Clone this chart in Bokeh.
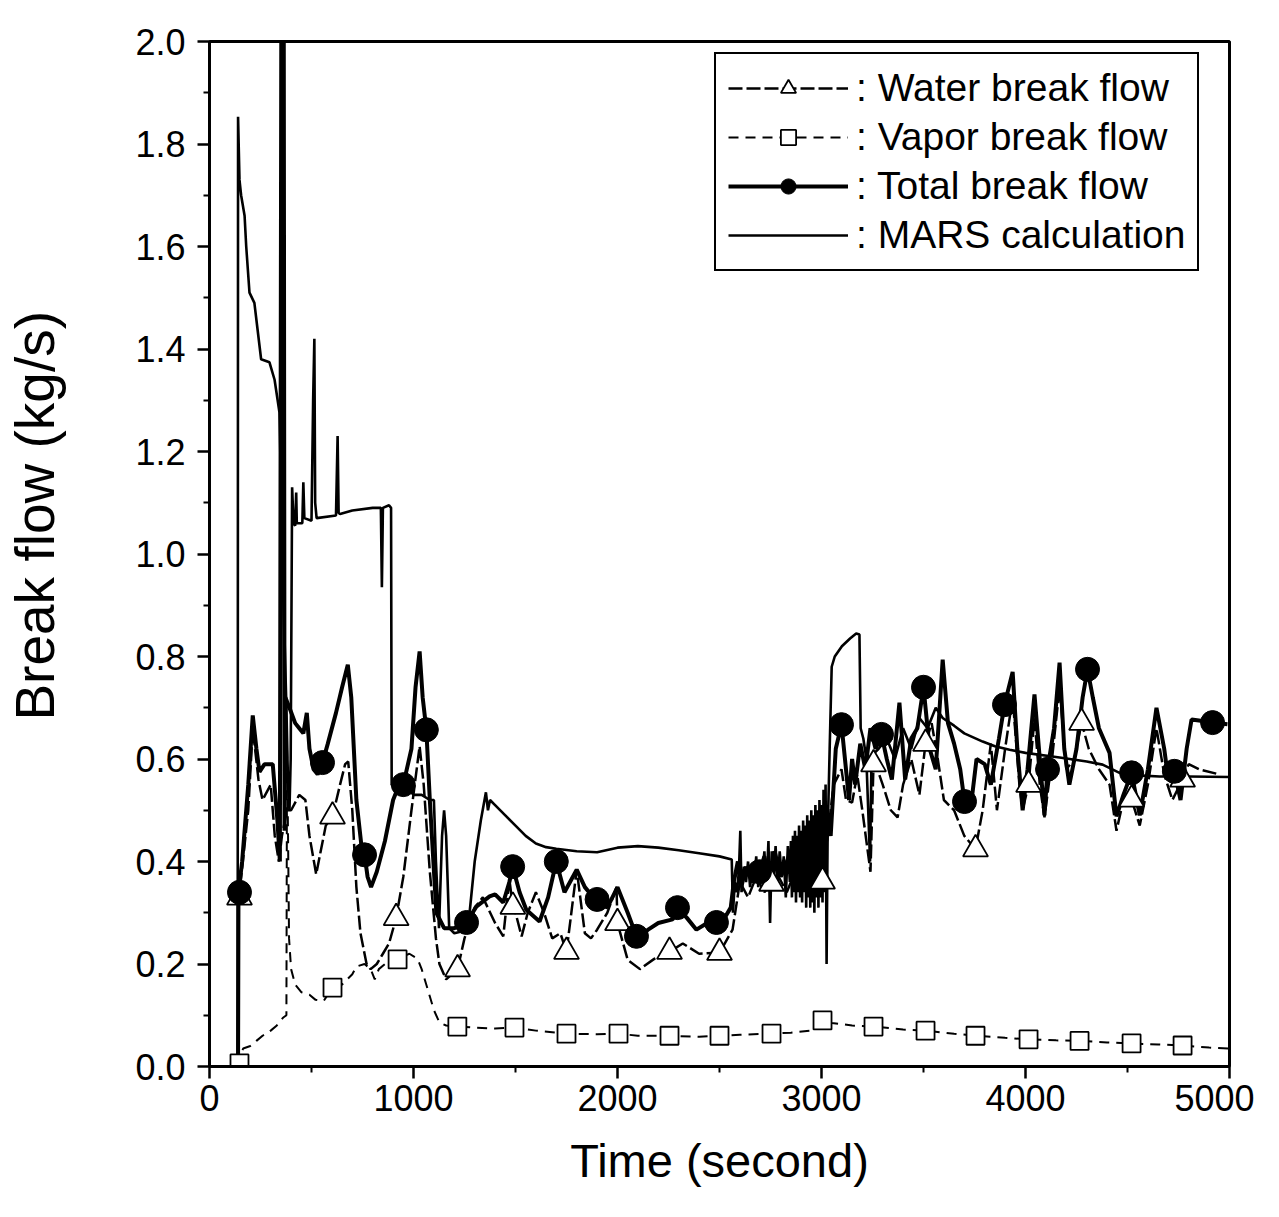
from bokeh.plotting import figure
from bokeh.models import Range1d, FixedTicker, PrintfTickFormatter, Legend, LegendItem
from bokeh.embed import file_html
from bokeh.resources import INLINE

# ---------------- data ----------------
x_ticks = [0, 1000, 2000, 3000, 4000, 5000]
x_minor = [500, 1500, 2500, 3500, 4500]
y_ticks = [0.0, 0.2, 0.4, 0.6, 0.8, 1.0, 1.2, 1.4, 1.6, 1.8, 2.0]
y_minor = [0.1, 0.3, 0.5, 0.7, 0.9, 1.1, 1.3, 1.5, 1.7, 1.9]

# MARS calculation
mars_t = [0, 138, 140, 147, 155, 172, 180, 196, 220, 235, 253, 294, 319, 343, 360, 377, 385, 392, 398,
          405, 412, 420, 425, 428, 455, 460, 465, 500, 508, 514, 518, 525, 620, 628, 633, 640, 700, 800,
          840, 845, 850, 880, 890, 893, 920, 960, 1000, 1040, 1080, 1100, 1110, 1125, 1140, 1150, 1160,
          1175, 1200, 1250, 1275, 1300, 1330, 1355, 1365, 1375, 1400, 1450, 1500, 1550, 1600, 1650, 1700,
          1800, 1900, 2000, 2100, 2200, 2300, 2400, 2500, 2560, 2566,
          2575, 2585, 2595, 2602, 2608, 2620, 2630, 2640, 2650, 2660, 2670, 2680, 2690, 2700, 2710, 2720,
          2730, 2740, 2748, 2756, 2765, 2775, 2785, 2795, 2805, 2815, 2825, 2835, 2845,
          2850, 2855, 2860, 2865, 2870, 2875, 2880, 2885, 2890, 2895, 2900, 2905, 2910, 2915, 2920, 2925,
          2930, 2935, 2940, 2945, 2950, 2955, 2960, 2965, 2970, 2975, 2980, 2985, 2990, 2995, 3000, 3005,
          3010, 3015, 3020, 3025,
          3030, 3040, 3050, 3065, 3100, 3140, 3170, 3186, 3192, 3205, 3220, 3238, 3245, 3255, 3280, 3320,
          3360, 3400, 3440, 3480, 3520, 3560, 3594, 3650, 3700, 3790, 3850, 3922, 4000, 4167, 4300, 4378,
          4461, 4550, 4657, 4800, 5000]
mars_v = [0.0, 0.0, 1.853, 1.73, 1.70, 1.66, 1.60, 1.51, 1.49, 1.44, 1.38, 1.374, 1.34, 1.276, 0.95, 0.70,
          0.55, 0.50, 0.60, 1.13, 1.06, 1.055, 1.12, 1.06, 1.06, 1.14, 1.07, 1.065, 1.30, 1.42, 1.10, 1.07,
          1.075, 1.23, 1.08, 1.078, 1.085, 1.09, 1.09, 0.935, 1.09, 1.095, 1.09, 0.55, 0.54, 0.55, 0.53,
          0.53, 0.52, 0.52, 0.40, 0.27, 0.45, 0.50, 0.45, 0.27, 0.26, 0.265, 0.30, 0.40, 0.48, 0.535, 0.50,
          0.52, 0.51, 0.49, 0.47, 0.45, 0.435, 0.428, 0.425, 0.42, 0.418, 0.427, 0.43, 0.427, 0.422, 0.416,
          0.41, 0.404, 0.30,
          0.36, 0.34, 0.38, 0.46, 0.34, 0.39, 0.36, 0.40, 0.35, 0.39, 0.36, 0.41, 0.35, 0.40, 0.37, 0.42,
          0.35, 0.44, 0.28, 0.42, 0.36, 0.43, 0.35, 0.42, 0.37, 0.41, 0.33, 0.43, 0.36,
          0.44, 0.33, 0.45, 0.34, 0.46, 0.32, 0.45, 0.34, 0.47, 0.33, 0.46, 0.32, 0.48, 0.34, 0.47, 0.31,
          0.49, 0.33, 0.48, 0.31, 0.50, 0.32, 0.49, 0.30, 0.51, 0.33, 0.50, 0.31, 0.52, 0.33, 0.51, 0.32,
          0.54, 0.34, 0.55, 0.20,
          0.45, 0.62, 0.78, 0.80, 0.82, 0.835, 0.845, 0.843, 0.66, 0.64, 0.60, 0.40, 0.60, 0.61, 0.62, 0.64,
          0.60, 0.66, 0.62, 0.68, 0.66, 0.70, 0.68, 0.665, 0.65, 0.634, 0.625, 0.618, 0.612, 0.603, 0.595,
          0.589, 0.573, 0.568, 0.566, 0.566, 0.565]

# Total break flow (experiment)
total_t = [140, 142, 160, 190, 212, 230, 245, 270, 310, 333, 345, 352, 364, 368, 372, 392, 420, 440, 460,
           477, 490, 510, 530, 554, 580, 620, 650, 678, 695, 720, 745, 760, 775, 792, 820, 860, 900, 930,
           950, 990, 1010, 1030, 1045, 1063, 1080, 1112, 1150, 1200, 1260, 1308, 1373, 1400, 1440, 1470,
           1486, 1520, 1553, 1618, 1660, 1700, 1740, 1800, 1840, 1877, 1900, 1950, 2000, 2050, 2093, 2150,
           2200, 2270, 2294, 2340, 2387, 2440, 2485, 2530, 2555,
           2570, 2590, 2607, 2630, 2660, 2696, 2720, 2745, 2770, 2800, 2840, 2870, 2900, 2930, 2960, 2990,
           3020, 3045, 3070, 3098, 3115, 3135, 3150, 3165, 3190, 3215, 3240, 3265, 3294, 3320, 3345, 3382,
           3410, 3440, 3470, 3500, 3530, 3560, 3594, 3620, 3650, 3680, 3701, 3730, 3760, 3800, 3830, 3870,
           3897, 3937, 3960, 3986, 4010, 4044, 4070, 4093, 4108, 4140, 4167, 4190, 4215, 4250, 4280, 4304,
           4330, 4360, 4412, 4446, 4480, 4520, 4560, 4600, 4642, 4680, 4700, 4730, 4760, 4790, 4814, 4850,
           4917, 4990]
total_v = [0.0, 0.34, 0.40, 0.55, 0.685, 0.62, 0.575, 0.59, 0.59, 0.48, 0.40, 2.05, 2.05, 0.46, 0.72, 0.70,
           0.67, 0.66, 0.65, 0.69, 0.62, 0.58, 0.57, 0.593, 0.63, 0.69, 0.74, 0.784, 0.72, 0.52, 0.43, 0.413,
           0.37, 0.35, 0.38, 0.44, 0.52, 0.55, 0.55, 0.62, 0.74, 0.81, 0.72, 0.657, 0.52, 0.30, 0.27, 0.27,
           0.281, 0.312, 0.332, 0.336, 0.32, 0.36, 0.39, 0.34, 0.306, 0.283, 0.33, 0.40, 0.34, 0.384, 0.35,
           0.332, 0.326, 0.31, 0.35, 0.30, 0.254, 0.267, 0.28, 0.287, 0.31, 0.29, 0.267, 0.28, 0.281, 0.293,
           0.31,
           0.36, 0.40, 0.35, 0.39, 0.36, 0.38, 0.41, 0.36, 0.42, 0.37, 0.41, 0.38, 0.40, 0.38, 0.46, 0.40,
           0.50, 0.45, 0.62, 0.667, 0.60, 0.52, 0.60, 0.55, 0.63, 0.58, 0.66, 0.62, 0.648, 0.60, 0.56, 0.71,
           0.56, 0.64, 0.66, 0.74, 0.62, 0.58, 0.794, 0.67, 0.63, 0.58, 0.517, 0.50, 0.60, 0.59, 0.55, 0.64,
           0.706, 0.77, 0.62, 0.50, 0.58, 0.726, 0.60, 0.49, 0.58, 0.66, 0.788, 0.62, 0.55, 0.62, 0.72, 0.775,
           0.72, 0.66, 0.612, 0.488, 0.53, 0.573, 0.49, 0.58, 0.70, 0.62, 0.56, 0.576, 0.52, 0.62, 0.677,
           0.675, 0.671, 0.668]
total_mark_t = [147, 554, 760, 950, 1063, 1260, 1486, 1700, 1900, 2093, 2294, 2485, 2696, 2900, 3098,
                3294, 3500, 3701, 3897, 4108, 4304, 4520, 4730, 4917]
total_mark_v = [0.34, 0.593, 0.413, 0.55, 0.657, 0.281, 0.39, 0.40, 0.326, 0.254, 0.31, 0.281, 0.38, 0.40,
                0.667, 0.648, 0.74, 0.517, 0.706, 0.58, 0.775, 0.573, 0.576, 0.671]

# Water break flow (experiment)
water_t = [140, 142, 190, 212, 240, 260, 300, 320, 340, 355, 380, 400, 440, 470, 490, 523, 545, 570, 603,
           640, 665, 680, 700, 720, 740, 770, 790, 820, 850, 880, 915, 950, 990, 1030, 1050, 1080, 1110,
           1127, 1160, 1216, 1250, 1300, 1340, 1400, 1440, 1470, 1487, 1500, 1530, 1560, 1600, 1640, 1680,
           1720, 1750, 1800, 1840, 1870, 1900, 1950, 1995, 2000, 2050, 2110, 2180, 2255, 2320, 2400, 2500,
           2564,
           2600, 2640, 2680, 2720, 2755, 2790, 2830, 2870, 2910, 2950, 2980, 3005, 3030, 3060, 3098, 3120,
           3150, 3175, 3200, 3240, 3255, 3265, 3300, 3340, 3373, 3400, 3440, 3480, 3510, 3540, 3570, 3600,
           3650, 3700, 3755, 3790, 3830, 3860, 3900, 3937, 3970, 3986, 4015, 4044, 4070, 4093, 4130, 4167,
           4200, 4240, 4275, 4310, 4360, 4412, 4446, 4480, 4520, 4560, 4600, 4642, 4680, 4720, 4770, 4800,
           4850, 4950]
water_v = [0.0, 0.32, 0.50, 0.66, 0.56, 0.52, 0.55, 0.45, 0.40, 0.45, 0.50, 0.50, 0.53, 0.52, 0.45, 0.375,
           0.42, 0.47, 0.488, 0.55, 0.59, 0.595, 0.50, 0.35, 0.26, 0.20, 0.19, 0.20, 0.22, 0.24, 0.29, 0.37,
           0.50, 0.625, 0.55, 0.38, 0.25, 0.20, 0.17, 0.19, 0.25, 0.31, 0.33, 0.28, 0.254, 0.365, 0.312,
           0.30, 0.254, 0.30, 0.34, 0.30, 0.25, 0.26, 0.224, 0.384, 0.26, 0.25, 0.267, 0.30, 0.35, 0.28,
           0.208, 0.19, 0.21, 0.224, 0.24, 0.22, 0.222, 0.267,
           0.36, 0.33, 0.37, 0.34, 0.357, 0.37, 0.34, 0.38, 0.35, 0.40, 0.35, 0.361, 0.45, 0.55, 0.58, 0.52,
           0.515, 0.57, 0.50, 0.38, 0.59, 0.59, 0.55, 0.50, 0.486, 0.55, 0.60, 0.53, 0.63, 0.67, 0.60, 0.52,
           0.50, 0.45, 0.424, 0.50, 0.63, 0.50, 0.62, 0.72, 0.55, 0.501, 0.55, 0.68, 0.55, 0.486, 0.60, 0.74,
           0.58, 0.60, 0.671, 0.62, 0.58, 0.55, 0.46, 0.52, 0.521, 0.47, 0.55, 0.66, 0.57, 0.52, 0.56, 0.59,
           0.58, 0.57]
water_mark_t = [147, 603, 915, 1216, 1487, 1750, 2000, 2255, 2500, 2755, 3005, 3255, 3510, 3755, 4015,
                4275, 4520, 4770]
water_mark_v = [0.33, 0.488, 0.29, 0.19, 0.312, 0.224, 0.28, 0.224, 0.222, 0.357, 0.361, 0.59, 0.63, 0.424,
                0.55, 0.671, 0.521, 0.56]

# Vapor break flow (experiment)
vapor_t = [140, 145, 150, 165, 200, 230, 260, 300, 330, 360, 377, 380, 385, 390, 400, 420, 450, 490, 520,
           560, 603, 650, 700, 720, 760, 790, 810, 830, 860, 900, 922, 950, 980, 1020, 1040, 1070, 1100,
           1127, 1160, 1215, 1300, 1400, 1495, 1600, 1750, 1900, 2005, 2100, 2255, 2400, 2500, 2600, 2755,
           2850, 2950, 2990, 3005, 3050, 3150, 3255, 3400, 3510, 3650, 3755, 3900, 4015, 4150, 4265, 4400,
           4520, 4650, 4770, 4900, 5000]
vapor_v = [0.0, 0.005, 0.02, 0.035, 0.04, 0.05, 0.06, 0.07, 0.08, 0.095, 0.10, 0.62, 0.45, 0.25, 0.19,
           0.16, 0.145, 0.14, 0.13, 0.128, 0.154, 0.16, 0.18, 0.195, 0.20, 0.19, 0.17, 0.19, 0.20, 0.21,
           0.209, 0.215, 0.22, 0.21, 0.19, 0.15, 0.11, 0.086, 0.08, 0.078, 0.076, 0.074, 0.076, 0.07, 0.064,
           0.063, 0.064, 0.06, 0.06, 0.058, 0.06, 0.062, 0.064, 0.066, 0.07, 0.09, 0.09, 0.085, 0.08, 0.078,
           0.072, 0.07, 0.064, 0.06, 0.056, 0.053, 0.051, 0.05, 0.047, 0.045, 0.043, 0.041, 0.037, 0.035]
vapor_mark_t = [147, 603, 922, 1215, 1495, 1750, 2005, 2255, 2500, 2755, 3005, 3255, 3510, 3755, 4015,
                4265, 4520, 4770]
vapor_mark_v = [0.006, 0.154, 0.209, 0.078, 0.076, 0.064, 0.064, 0.06, 0.06, 0.064, 0.09, 0.078, 0.07,
                0.06, 0.053, 0.05, 0.045, 0.041]

labels = [": Water break flow", ": Vapor break flow", ": Total break flow", ": MARS calculation"]

# ---------------- figure ----------------
FONT = "Liberation Sans"
p = figure(frame_width=1020, frame_height=1025,
           x_range=Range1d(0, 5000), y_range=Range1d(0, 2.0),
           output_backend="svg", toolbar_location=None,
           min_border_left=209, min_border_top=41, min_border_right=25, min_border_bottom=125)

p.xgrid.visible = False
p.ygrid.visible = False
p.outline_line_color = "black"
p.outline_line_width = 3
p.outline_line_alpha = 1.0
p.background_fill_color = "white"
p.border_fill_color = "white"

p.xaxis.ticker = FixedTicker(ticks=x_ticks, minor_ticks=x_minor)
p.yaxis.ticker = FixedTicker(ticks=y_ticks, minor_ticks=y_minor)
p.yaxis.formatter = PrintfTickFormatter(format="%.1f")

for ax in (p.xaxis[0], p.yaxis[0]):
    ax.axis_line_width = 3
    ax.axis_line_color = "black"
    ax.major_tick_in = 0
    ax.major_tick_out = 12
    ax.minor_tick_in = 0
    ax.minor_tick_out = 6
    ax.major_tick_line_width = 2.5
    ax.minor_tick_line_width = 2
    ax.major_label_text_font = FONT
    ax.major_label_text_font_size = "36px"
    ax.major_label_text_color = "black"
    ax.axis_label_text_font = FONT
    ax.axis_label_text_font_style = "normal"
    ax.axis_label_text_color = "black"

p.xaxis.axis_label = "Time (second)"
p.xaxis.axis_label_text_font_size = "47px"
p.xaxis.major_label_standoff = 6
p.xaxis.axis_label_standoff = 20
p.yaxis.axis_label = "\u00a0" * 5 + "Break flow (kg/s)"
p.yaxis.axis_label_text_font_size = "55px"
p.yaxis.major_label_standoff = 12
p.yaxis.axis_label_standoff = 66

# ---------------- series ----------------
r_mars = p.line(mars_t, mars_v, line_color="black", line_width=2.6)
r_vap = p.line(vapor_t, vapor_v, line_color="black", line_width=2, line_dash="10 7")
r_wat = p.line(water_t, water_v, line_color="black", line_width=2.5, line_dash="14 4")
r_tot = p.line(total_t, total_v, line_color="black", line_width=4)

m_vap = p.scatter(vapor_mark_t, vapor_mark_v, marker="square", size=18, fill_color="white",
                  line_color="black", line_width=1.8)
m_wat = p.scatter(water_mark_t, water_mark_v, marker="triangle", size=25, fill_color="white",
                  line_color="black", line_width=1.8)
m_tot = p.scatter(total_mark_t, total_mark_v, marker="circle", size=24, fill_color="black",
                  line_color="black")

legend = Legend(items=[
    LegendItem(label=labels[0], renderers=[r_wat, m_wat]),
    LegendItem(label=labels[1], renderers=[r_vap, m_vap]),
    LegendItem(label=labels[2], renderers=[r_tot, m_tot]),
    LegendItem(label=labels[3], renderers=[r_mars]),
], location=(505, 795),
    border_line_color="black", border_line_width=2, border_line_alpha=1.0,
    label_text_font=FONT, label_text_font_size="39px", label_text_color="black",
    glyph_width=120, glyph_height=38, label_height=38, spacing=5, padding=12,
    label_standoff=8, background_fill_alpha=1.0)
p.add_layout(legend)

open("out.html", "w").write(file_html(p, INLINE))
